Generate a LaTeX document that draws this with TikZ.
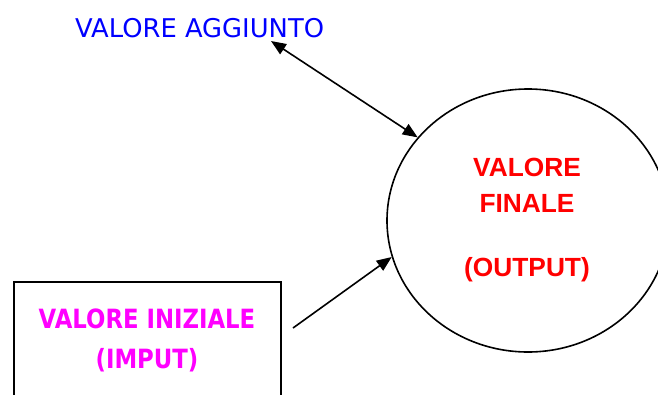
\documentclass[tikz,border=0pt]{standalone}
\usepackage{fontspec}
\setmainfont{Liberation Sans}
\newfontfamily\bluefont{DejaVu Sans}
\newfontfamily\magfont[FakeStretch=0.86]{DejaVu Sans}
\usetikzlibrary{shapes.geometric,arrows.meta}
\definecolor{vblue}{RGB}{0,0,255}
\definecolor{vred}{RGB}{255,0,0}
\definecolor{vmag}{RGB}{255,0,255}
\tikzset{
  conn/.style={line width=1.6pt},
  tipboth/.style={{Triangle[length=15pt,width=12pt]}-{Triangle[length=15pt,width=12pt]}},
  tipend/.style={-{Triangle[length=15pt,width=12pt]}},
  outshape/.style={ellipse,draw,line width=1.6pt,minimum width=282pt,minimum height=263pt,inner sep=0pt},
  inbox/.style={rectangle,draw,line width=1.6pt,minimum width=267pt,minimum height=150pt,anchor=north west,inner sep=0pt},
  redtxt/.style={text=vred,font=\bfseries\fontsize{26.3}{36}\selectfont,align=center},
  bluetxt/.style={text=vblue,font=\bluefont\fontsize{25.8}{30}\selectfont},
  magtxt/.style={text=vmag,font=\magfont\bfseries\fontsize{26.5}{40}\selectfont,align=center}
}
\begin{document}
\begin{tikzpicture}[x=1pt,y=-1pt]
\clip (0,0) rectangle (658,394);
\node[outshape] (out) at (528,220.5) {};
\node[redtxt] (outtxt) at (527,220) {VALORE\\FINALE\\[28pt](OUTPUT)};
\node[inbox] (inb) at (13,281) {};
\node[magtxt] (intxt) at (147,340) {VALORE INIZIALE\\(IMPUT)};
\node[bluetxt,anchor=base west,inner sep=0pt] (agg) at (75,37) {VALORE AGGIUNTO};
\coordinate (aggtip) at (271,41);
\coordinate (instart) at (293,328);
\draw[conn,tipboth] (aggtip) -- (out.143);
\draw[conn,tipend] (instart) -- (out.195);
\end{tikzpicture}
\end{document}
